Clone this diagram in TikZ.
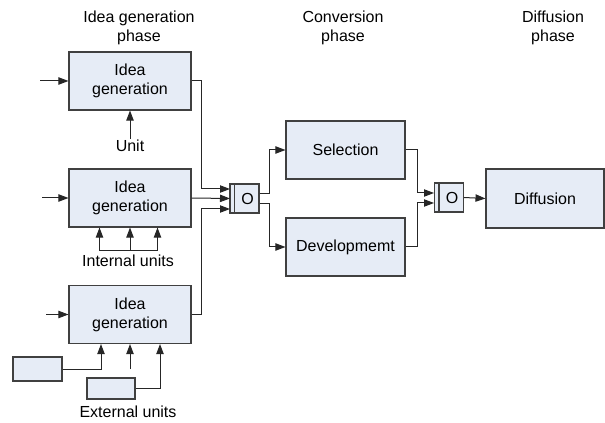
\documentclass[tikz,border=0pt]{standalone}
\usepackage{fontspec}
\setmainfont{Liberation Sans}
\usetikzlibrary{arrows.meta,calc}
\definecolor{boxfill}{HTML}{E6ECF6}
\definecolor{boxline}{HTML}{404040}
\tikzset{
  every node/.style={font=\fontsize{12}{14.4}\selectfont},
  blk/.style={draw=boxline,fill=boxfill,line width=0.8pt,align=center,inner sep=0pt,
    minimum width=91.5pt,minimum height=43.5pt},
  gate/.style={draw=boxline,fill=boxfill,line width=0.8pt,inner sep=0pt,
    minimum width=21.75pt,minimum height=21.75pt},
  small/.style={draw=boxline,fill=boxfill,line width=0.8pt,inner sep=0pt},
  lbl/.style={align=center,inner sep=1pt},
  conn/.style={draw=black!85,line width=0.75pt},
  arr/.style={conn,-{Triangle[length=7.5pt,width=5.5pt]}},
}
\begin{document}
\begin{tikzpicture}[x=0.75pt,y=-0.75pt]
\useasboundingbox (0,0) rectangle (605,423);
% headers
\node[lbl] (h1) at (139,28) {Idea generation\\phase};
\node[lbl] (h2) at (343,28) {Conversion\\phase};
\node[lbl] (h3) at (553,28) {Diffusion\\phase};
% idea boxes
\node[blk] (b1) at (130,81) {Idea\\generation};
\node[blk] (b2) at (130,198) {Idea\\generation};
\node[blk] (b3) at (130,314.5) {Idea\\generation};
% external unit boxes
\node[small,minimum width=36.75pt,minimum height=18pt] (e1) at (37.5,369) {};
\node[small,minimum width=36pt,minimum height=15.75pt] (e2) at (111,388.5) {};
% gates
\node[gate] (g1) at (244.5,198.5) {};
\draw[boxline,line width=0.8pt] ($(g1.north west)+(5,0)$) -- ($(g1.south west)+(5,0)$);
\node[inner sep=0pt] (o1) at (247.5,198.5) {O};
\node[gate] (g2) at (449,197.5) {};
\draw[boxline,line width=0.8pt] ($(g2.north west)+(5,0)$) -- ($(g2.south west)+(5,0)$);
\node[inner sep=0pt] (o2) at (452,197.5) {O};
% conversion boxes
\node[blk,minimum width=89.25pt] (sel) at (345.5,150) {Selection};
\node[blk,minimum width=89.25pt] (dev) at (345.5,247) {Developmemt};
% diffusion
\node[blk,minimum width=88.5pt,minimum height=44.25pt] (dif) at (545,198.5) {Diffusion};
% labels
\node[lbl] (unit) at (130,146) {Unit};
\node[lbl] (iu) at (128,261) {Internal units};
\node[lbl,inner sep=0pt] (eu) at (128,412) {External units};
% input coordinates
\coordinate (i1) at (40,81);
\coordinate (i2) at (42,198);
\coordinate (i3) at (46,314.5);
\coordinate (g1a) at (230,189);
\coordinate (g1b) at (230,198.5);
\coordinate (g1c) at (230,209);
\coordinate (g2a) at (434,193);
\coordinate (g2b) at (434,203);
\coordinate (iu1) at (99.5,251);
\coordinate (iu2) at (130,251);
\coordinate (iu3) at (157.5,251);
\coordinate (em) at (130,369);
% connectors
\draw[arr] (i1) -- (b1.west);
\draw[arr] (i2) -- (b2.west);
\draw[arr] (i3) -- (b3.west);
\draw[arr] (unit.north) -- (b1.south);
\draw[conn] (iu1) -- (iu3);
\draw[arr] (iu1) -- (iu1 |- b2.south);
\draw[arr] (iu2) -- (iu2 |- b2.south);
\draw[arr] (iu3) -- (iu3 |- b2.south);
\draw[arr] (e1.east) -| ($(b3.south)+(-29,0)$);
\draw[arr] (em) -- (em |- b3.south);
\draw[arr] (e2.east) -| ($(b3.south)+(30,0)$);
\draw[arr] (b1.east) -- ++(10,0) |- (g1a);
\draw[arr] (b2.east) -- (g1b);
\draw[arr] (b3.east) -- ++(10,0) |- (g1c);
\draw[arr] ($(g1.east)+(0,-4.5)$) -- ++(10,0) |- (sel.west);
\draw[arr] ($(g1.east)+(0,5.5)$) -- ++(10,0) |- (dev.west);
\draw[arr] (sel.east) -- ++(12,0) |- (g2a);
\draw[arr] (dev.east) -- ++(12,0) |- (g2b);
\draw[arr] (g2.east) -- (dif.west);
\end{tikzpicture}
\end{document}
